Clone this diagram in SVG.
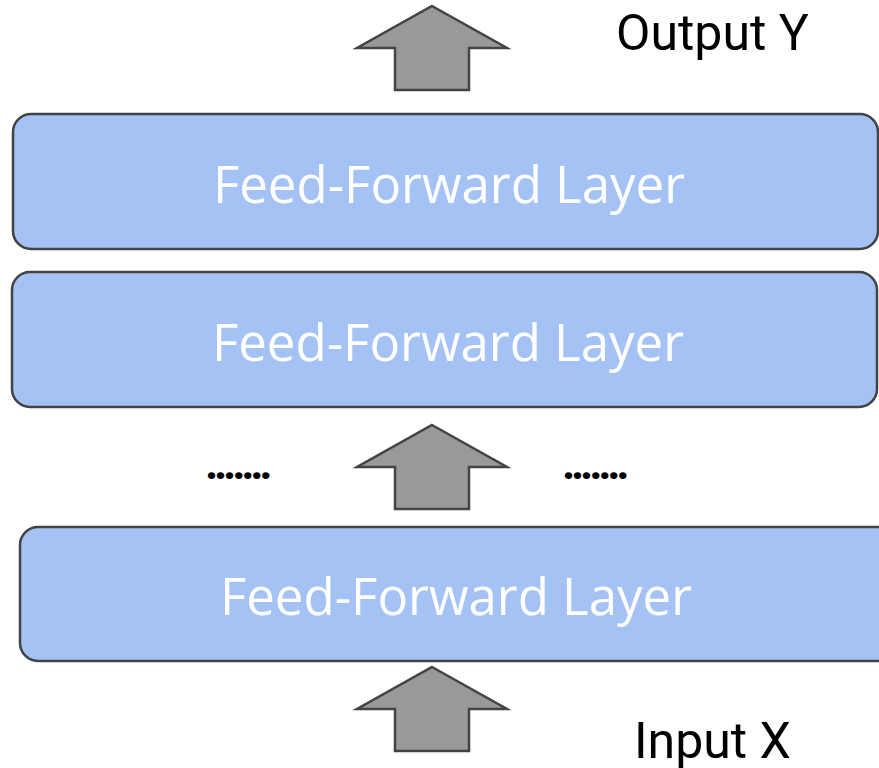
<svg xmlns="http://www.w3.org/2000/svg" width="879" height="768" viewBox="0 0 879 768">
<style>
.box{fill:#a4c2f4;stroke:#434343;stroke-width:2.5}
.arrow{fill:#999999;stroke:#434343;stroke-width:2.5;stroke-linejoin:miter}
.lbl{font-family:"Open Sans",sans-serif;font-size:51px;fill:#ffffff;text-anchor:middle}
.io{font-family:Roboto,sans-serif;font-size:50px;fill:#000000}
.dots{font-family:Roboto,sans-serif;font-size:46px;font-weight:bold;fill:#000000;letter-spacing:-4.3px}
</style>
<g id="layer3">
<rect class="box" x="20" y="527" width="880" height="134" rx="18"/>
<text class="lbl" x="456" y="615">Feed-Forward Layer</text>
</g>
<g id="layer2">
<rect class="box" x="12" y="272" width="865" height="135" rx="18"/>
<text class="lbl" x="448" y="361">Feed-Forward Layer</text>
</g>
<g id="layer1">
<rect class="box" x="13" y="114" width="865" height="135" rx="18"/>
<text class="lbl" x="449" y="203">Feed-Forward Layer</text>
</g>
<g id="connectors">
<polygon class="arrow" points="432,6 507,48 469,48 469,90 395,90 395,48 357,48"/>
<polygon class="arrow" points="432,425 507,467 469,467 469,509 395,509 395,467 357,467"/>
<polygon class="arrow" points="432,667 507,709 469,709 469,751 395,751 395,709 357,709"/>
</g>
<g id="output"><text class="io" x="616" y="50">Output Y</text></g>
<g id="input"><text class="io" x="634" y="758">Input X</text></g>
<g id="dotsL"><text class="dots" x="205" y="479">.......</text></g>
<g id="dotsR"><text class="dots" x="562" y="479">.......</text></g>
</svg>
